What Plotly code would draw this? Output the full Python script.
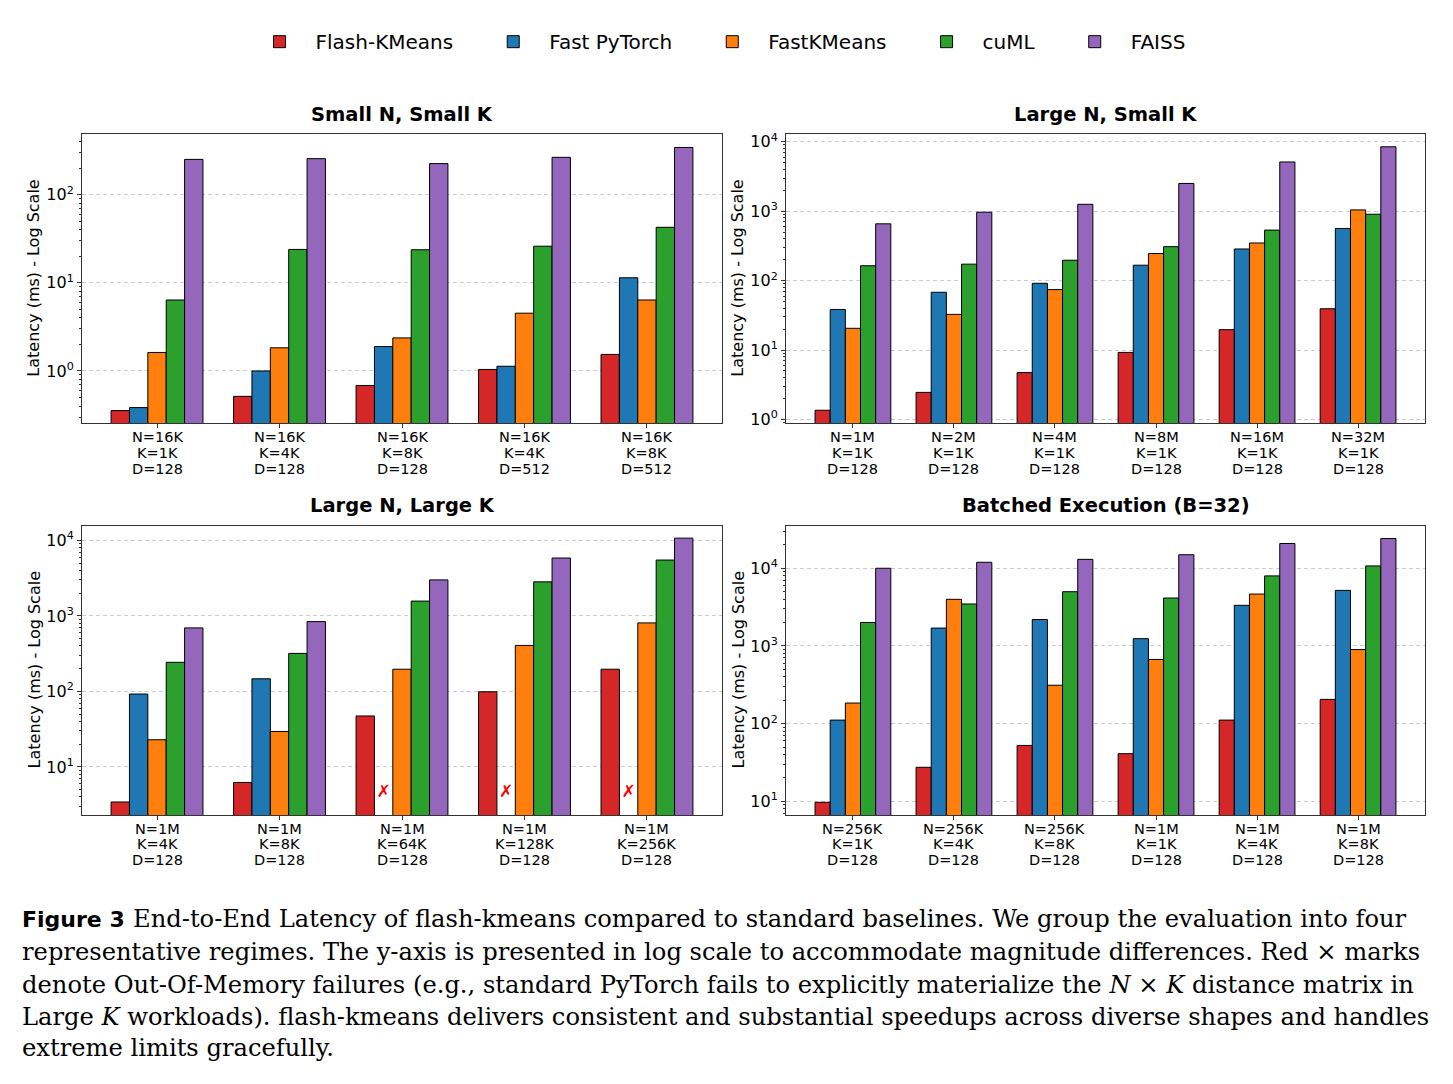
import math
import plotly.graph_objects as go

W, H = 1453, 1084

series_names = ["Flash-KMeans", "Fast PyTorch", "FastKMeans", "cuML", "FAISS"]
series_colors = ["#d62728", "#1f77b4", "#ff7f0e", "#2ca02c", "#9467bd"]

# Panel 1: Small N, Small K
p1_labels = ["N=16K<br>K=1K<br>D=128", "N=16K<br>K=4K<br>D=128", "N=16K<br>K=8K<br>D=128",
             "N=16K<br>K=4K<br>D=512", "N=16K<br>K=8K<br>D=512"]
p1_flash = [0.355, 0.515, 0.684, 1.04, 1.54]
p1_torch = [0.384, 1.0, 1.89, 1.13, 11.4]
p1_fastk = [1.62, 1.83, 2.37, 4.52, 6.38]
p1_cuml = [6.38, 23.9, 23.7, 26.0, 42.6]
p1_faiss = [251, 256, 225, 265, 343]

# Panel 2: Large N, Small K
p2_labels = ["N=1M<br>K=1K<br>D=128", "N=2M<br>K=1K<br>D=128", "N=4M<br>K=1K<br>D=128",
             "N=8M<br>K=1K<br>D=128", "N=16M<br>K=1K<br>D=128", "N=32M<br>K=1K<br>D=128"]
p2_flash = [1.36, 2.46, 4.74, 9.26, 19.7, 39.4]
p2_torch = [38.5, 68, 91.6, 167, 286, 565]
p2_fastk = [20.6, 32.7, 74.4, 246, 349, 1045]
p2_cuml = [164, 173, 197, 309, 535, 906]
p2_faiss = [659, 968, 1259, 2513, 5128, 8483]

# Panel 3: Large N, Large K (None = Out-Of-Memory)
p3_labels = ["N=1M<br>K=4K<br>D=128", "N=1M<br>K=8K<br>D=128", "N=1M<br>K=64K<br>D=128",
             "N=1M<br>K=128K<br>D=128", "N=1M<br>K=256K<br>D=128"]
p3_flash = [3.43, 6.22, 47.3, 99, 197]
p3_torch = [92.3, 147, None, None, None]
p3_fastk = [22.9, 29.5, 197, 407, 809]
p3_cuml = [243, 319, 1574, 2831, 5508]
p3_faiss = [695, 842, 3006, 5861, 10740]

# Panel 4: Batched Execution (B=32)
p4_labels = ["N=256K<br>K=1K<br>D=128", "N=256K<br>K=4K<br>D=128", "N=256K<br>K=8K<br>D=128",
             "N=1M<br>K=1K<br>D=128", "N=1M<br>K=4K<br>D=128", "N=1M<br>K=8K<br>D=128"]
p4_flash = [9.7, 27.4, 52.4, 41, 111, 205]
p4_torch = [111, 1698, 2188, 1241, 3334, 5188]
p4_fastk = [184, 3984, 312, 670, 4656, 898]
p4_cuml = [2004, 3470, 4990, 4140, 7980, 10720]
p4_faiss = [10000, 11940, 13030, 14930, 20840, 24150]

oom_marker_value = 4.5  # ms, where the red cross is drawn

panel_titles = ["Small N, Small K", "Large N, Small K", "Large N, Large K", "Batched Execution (B=32)"]

panels = [
    dict(labels=p1_labels, data=[p1_flash, p1_torch, p1_fastk, p1_cuml, p1_faiss],
         yrange=[-0.596, 2.689], majors=[0, 1, 2]),
    dict(labels=p2_labels, data=[p2_flash, p2_torch, p2_fastk, p2_cuml, p2_faiss],
         yrange=[-0.057, 4.114], majors=[0, 1, 2, 3, 4]),
    dict(labels=p3_labels, data=[p3_flash, p3_torch, p3_fastk, p3_cuml, p3_faiss],
         yrange=[0.36, 4.197], majors=[1, 2, 3, 4]),
    dict(labels=p4_labels, data=[p4_flash, p4_torch, p4_fastk, p4_cuml, p4_faiss],
         yrange=[0.821, 4.549], majors=[1, 2, 3, 4]),
]

# pixel boxes of the four plot areas (left, right, top, bottom)
boxes = [(82, 722, 132, 424), (786, 1425, 132, 424), (82, 722, 527, 819), (786, 1425, 527, 819)]

BARGAP = 0.25
bar_w = (1 - BARGAP) / len(series_names)

FONT = "DejaVu Sans"
fig = go.Figure()
layout = dict(
    width=W, height=H, margin=dict(l=0, r=0, t=0, b=0),
    paper_bgcolor="white", plot_bgcolor="white",
    barmode="group", bargap=BARGAP, bargroupgap=0,
    font=dict(family=FONT, color="black"),
    showlegend=True,
    legend=dict(orientation="h", x=0.5, xanchor="center", y=1 - 39 / H, yanchor="middle",
                font=dict(size=20, family=FONT), itemwidth=62, traceorder="normal",
                tracegroupgap=0),
)

annotations = []
for pi, p in enumerate(panels):
    l, r, t, b = boxes[pi]
    xa = "x" if pi == 0 else f"x{pi + 1}"
    ya = "y" if pi == 0 else f"y{pi + 1}"
    xkey = "xaxis" if pi == 0 else f"xaxis{pi + 1}"
    ykey = "yaxis" if pi == 0 else f"yaxis{pi + 1}"
    n = len(p["labels"])
    xs = list(range(n))
    for si, name in enumerate(series_names):
        fig.add_trace(go.Bar(
            x=xs, y=p["data"][si], name=name + "\u00a0\u00a0\u00a0", legendgroup=name,
            showlegend=(pi == 0),
            marker=dict(color=series_colors[si], line=dict(color="black", width=1)),
            xaxis=xa, yaxis=ya, hoverinfo="skip",
        ))
    # OOM markers at the Fast PyTorch slot
    oom_x = [i + (1 - 2) * bar_w for i, v in enumerate(p["data"][1]) if v is None]
    if oom_x:
        fig.add_trace(go.Scatter(
            x=oom_x, y=[oom_marker_value] * len(oom_x), mode="text", text=["✗"] * len(oom_x),
            textfont=dict(color="red", size=17, family=FONT), showlegend=False,
            xaxis=xa, yaxis=ya, hoverinfo="skip",
        ))
    lo, hi = p["yrange"]
    minors = []
    for e in range(-1, 6):
        for k in range(2, 10):
            v = k * 10 ** e
            if lo <= math.log10(v) <= hi:
                minors.append(v)
    span = (n - 1) + 2 * 0.375
    layout[xkey] = dict(
        domain=[l / W, r / W], anchor=ya, range=[-0.375 - 0.05 * span, n - 1 + 0.375 + 0.05 * span],
        tickmode="array", tickvals=xs, ticktext=[""] * n, ticks="outside", ticklen=4,
        tickcolor="#333", showgrid=False, zeroline=False,
        showline=True, linecolor="#333", linewidth=1, mirror=True, fixedrange=True,
    )
    layout[ykey] = dict(
        domain=[1 - b / H, 1 - t / H], anchor=xa, type="log", range=[lo, hi],
        tickmode="array", tickvals=[10 ** m for m in p["majors"]],
        ticktext=[f"10<sup>{m}</sup>" for m in p["majors"]],
        ticks="outside", ticklen=4, tickcolor="#333", tickfont=dict(size=16, family=FONT),
        showgrid=True, gridcolor="#cccccc", griddash="4px,3px", gridwidth=0.8,
        zeroline=False, showline=True, linecolor="#333", linewidth=1, mirror=True,
        minor=dict(tickmode="array", tickvals=minors, ticks="outside", ticklen=2,
                   tickcolor="#333", showgrid=False),
    )
    # multi-line category labels, one annotation per line for tighter spacing
    for i, lab in enumerate(p["labels"]):
        for li, part in enumerate(lab.split("<br>")):
            annotations.append(dict(text=part, x=i, xref=xa, y=1 - (b + 13.5 + 16 * li) / H,
                                    yref="paper", xanchor="center", yanchor="middle",
                                    showarrow=False, font=dict(size=14.5, family=FONT)))
    annotations.append(dict(text=f"<b>{panel_titles[pi]}</b>", x=(l + r) / 2 / W, y=1 - (t - 20) / H,
                            xref="paper", yref="paper", xanchor="center", yanchor="middle",
                            showarrow=False, font=dict(size=19.5, family=FONT)))
    annotations.append(dict(text="Latency (ms) - Log Scale", x=(l - 48) / W, y=1 - (t + b) / 2 / H,
                            xref="paper", yref="paper", xanchor="center", yanchor="middle",
                            textangle=-90, showarrow=False, font=dict(size=16, family=FONT)))

caption_lines = [
    "End-to-End Latency of flash-kmeans compared to standard baselines. We group the evaluation into four",
    "representative regimes. The y-axis is presented in log scale to accommodate magnitude differences. Red × marks",
    "denote Out-Of-Memory failures (e.g., standard PyTorch fails to explicitly materialize the <i>N</i> × <i>K</i> distance matrix in",
    "Large <i>K</i> workloads). flash-kmeans delivers consistent and substantial speedups across diverse shapes and handles",
    "extreme limits gracefully.",
]
cap_y = [924, 957, 990, 1022, 1054]
SERIF = "DejaVu Serif"
annotations.append(dict(text="<b>Figure 3</b>", x=20 / W, y=1 - cap_y[0] / H, xref="paper", yref="paper",
                        xanchor="left", yanchor="middle", showarrow=False,
                        font=dict(size=22, family=FONT)))
for i, line in enumerate(caption_lines):
    x0 = 131 if i == 0 else 20
    annotations.append(dict(text=line, x=x0 / W, y=1 - cap_y[i] / H, xref="paper", yref="paper",
                            xanchor="left", yanchor="middle", showarrow=False,
                            font=dict(size=24.2, family=SERIF)))

layout["annotations"] = annotations
fig.update_layout(**layout)
fig.write_html("out.html")
